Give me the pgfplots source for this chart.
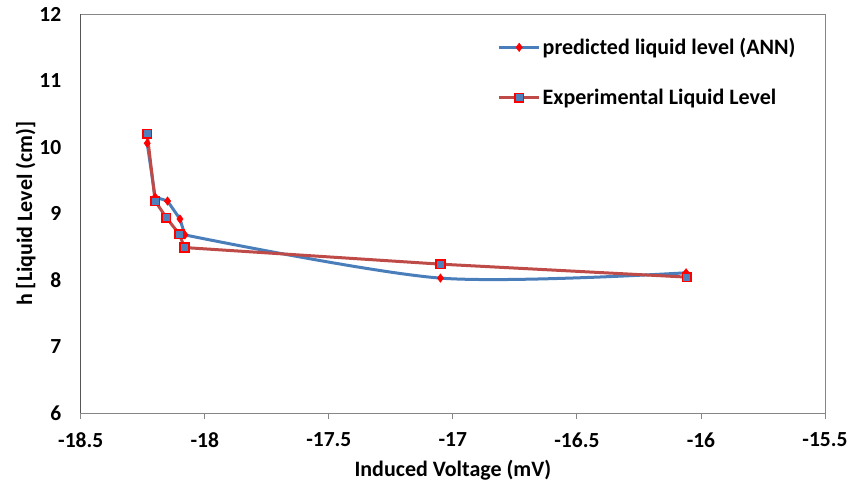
\documentclass[border=0pt]{standalone}
\usepackage{fontspec}
\setmainfont{Carlito}
\usepackage{pgfplots}
\pgfplotsset{compat=1.18}
\definecolor{exblue}{RGB}{74,126,187}
\definecolor{exred}{RGB}{190,75,72}
\definecolor{mkblue}{RGB}{79,129,189}
\definecolor{axgray}{RGB}{134,134,134}
\begin{document}
\begin{tikzpicture}
\useasboundingbox (-80.7bp,-73bp) rectangle (769.3bp,413bp);
\begin{axis}[
  scale only axis,
  width=744.3bp, height=398.7bp,
  at={(0,0)}, anchor=south west,
  xmin=-18.5, xmax=-15.5, ymin=6, ymax=12,
  xtick={-18.5,-18,-17.5,-17,-16.5,-16,-15.5},
  ytick={6,7,8,9,10,11,12},
  xticklabels={-18.5,-18,-17.5,-17,-16.5,-16,-15.5},
  axis line style={axgray, line width=0.9bp},
  xtick pos=lower,
  xtick style={axgray, line width=0.9bp},
  ytick style={draw=none},
  tick align=outside,
  major tick length=6bp,
  /pgf/number format/assume math mode=true,
  font=\fontsize{22bp}{26bp}\selectfont\bfseries,
  tick label style={font=\fontsize{21.5bp}{25bp}\selectfont\bfseries, black},
  xticklabel style={yshift=-10bp},
  yticklabel style={xshift=-10bp},
  xlabel={Induced Voltage (mV)},
  ylabel={h [Liquid Level (cm)]},
  xlabel style={font=\fontsize{22bp}{26bp}\selectfont\bfseries, yshift=-6bp},
  ylabel style={font=\fontsize{22bp}{26bp}\selectfont\bfseries, yshift=-3bp},
  legend style={draw=none, fill=none, at={(rel axis cs:0.56,0.945)}, anchor=north west,
    font=\fontsize{22bp}{26bp}\selectfont\bfseries, row sep=29bp, inner sep=0pt},
  legend cell align=left,
  legend image code/.code={\draw[mark repeat=2,mark phase=2,#1] plot coordinates {(0bp,0bp) (20bp,0bp) (40bp,0bp)};},
]
\draw[black, line width=0.9bp] (rel axis cs:0,0) -- (rel axis cs:0,1);
\addplot[exblue, line width=3bp, smooth, tension=0.5, forget plot]
  coordinates {(-18.08,8.68) (-17.05,8.03) (-16.06,8.11)};
\addplot[exblue, line width=3bp,
  mark=diamond*, mark size=4.2bp, mark options={fill=red, draw=red, line width=0.5bp, solid}]
  coordinates {(-18.232,10.06) (-18.20,9.25) (-18.15,9.19) (-18.10,8.92) (-18.08,8.68)};
\addlegendentry{predicted liquid level (ANN)}
\addplot[only marks, mark=diamond*, mark size=4.2bp, mark options={fill=red, draw=red, line width=0.5bp, solid}, forget plot]
  coordinates {(-17.05,8.03) (-16.06,8.11)};
\addplot[exred, line width=3bp,
  mark=square*, mark size=4.3bp, mark options={fill=mkblue, draw=red, line width=1.6bp, solid}]
  coordinates {(-18.232,10.20) (-18.20,9.19) (-18.155,8.94) (-18.102,8.69) (-18.082,8.49) (-17.05,8.24) (-16.057,8.045)};
\addlegendentry{Experimental Liquid Level}
\end{axis}
\end{tikzpicture}
\end{document}
